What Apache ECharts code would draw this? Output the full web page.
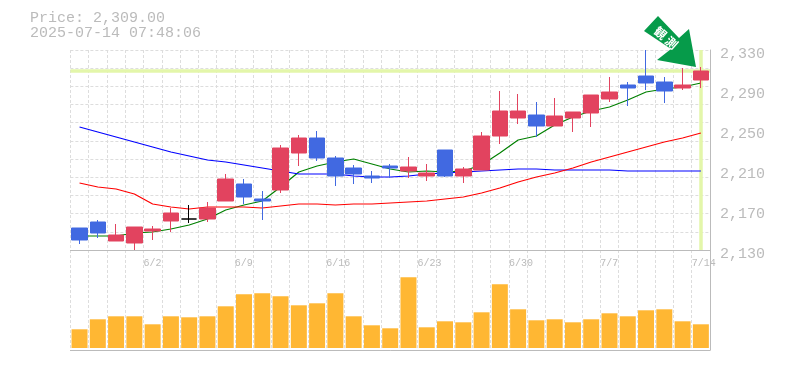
<!DOCTYPE html>
<html><head><meta charset="utf-8">
<style>html,body{margin:0;padding:0;background:#fff}#c{width:785px;height:370px}</style>
<script src="https://cdn.jsdelivr.net/npm/echarts@6/dist/echarts.min.js"></script>
</head><body><div id="c"></div>
<script>
const dates = ['5/27','5/28','5/29','5/30','6/2','6/3','6/4','6/5','6/6','6/9','6/10','6/11','6/12','6/13','6/16','6/17','6/18','6/19','6/20','6/23','6/24','6/25','6/26','6/27','6/30','7/1','7/2','7/3','7/4','7/7','7/8','7/9','7/10','7/11','7/14'];
const tickDates = ['6/2','6/9','6/16','6/23','6/30','7/7','7/14'];
const priceTicks = [2130,2170,2210,2250,2290,2330];
const lastPrice = 2309;
const titleLines = ['Price: 2,309.00','2025-07-14 07:48:06'];
const signalText = '観 測';
// open, close, low, high
const opens  = [2152,2158,2139,2137,2149,2159,2161,2161,2179,2196,2181,2190,2227,2242,2222,2212,2204,2214,2209,2204,2230,2204,2210,2244,2262,2265,2254,2262,2267,2281,2295,2304,2298,2292,2300];
const closes = [2140,2147,2145,2153,2151,2167,2161,2172,2201,2183,2179,2232,2242,2222,2204,2206,2202,2212,2213,2207,2204,2211,2244,2269,2269,2254,2264,2268,2285,2288,2292,2297,2289,2295,2309];
const lows   = [2136,2142,2139,2130,2140,2148,2157,2158,2179,2176,2160,2187,2214,2219,2194,2196,2197,2202,2202,2199,2203,2197,2210,2236,2256,2243,2254,2248,2253,2278,2274,2290,2277,2290,2292];
const highs  = [2152,2160,2156,2153,2154,2172,2175,2178,2206,2201,2189,2235,2245,2249,2224,2215,2209,2216,2223,2216,2230,2213,2248,2289,2286,2278,2282,2268,2285,2303,2298,2330,2303,2312,2313];
const maShort = [2144,2144,2144,2147,2148,2151,2155,2161,2170,2175,2179,2193,2208,2214,2218,2221,2216,2211,2208,2209,2208,2209,2215,2227,2240,2244,2255,2263,2269,2273,2280,2288,2291,2293,2297];
const maMid   = [2197,2193,2191,2186,2176,2173,2171,2173,2173,2173,2172,2174,2176,2176,2175,2176,2176,2177,2178,2179,2181,2183,2187,2192,2198,2203,2207,2212,2218,2223,2228,2233,2238,2242,2247];
const maLong  = [2253,2248,2243,2238,2233,2228,2224,2220,2218,2215,2212,2209,2206,2206,2206,2204,2203,2203,2204,2206,2207,2208,2209,2210,2211,2211,2210,2210,2210,2210,2209,2209,2209,2209,2209];
const volumes = [18.7,28.7,31.7,31.7,23.7,31.7,30.7,31.7,41.7,53.7,54.7,51.7,42.7,44.7,54.7,31.7,22.7,19.7,70.7,20.7,26.7,25.7,35.7,63.7,38.7,27.7,28.7,25.7,28.7,34.7,31.7,37.7,38.7,26.7,23.7];

const gray='#bbbbbb', gridC='#dddddd', lime='#e3f6aa', mono='"Liberation Mono", monospace';
const split={show:true,interval:0,lineStyle:{color:gridC,width:1,type:[3,2]}};
const ch=echarts.init(document.getElementById('c'),null,{renderer:'canvas'});
const lineS=(name,data,color)=>({name,type:'line',data,xAxisIndex:0,yAxisIndex:0,symbol:'none',smooth:false,z:1,silent:true,lineStyle:{color,width:1.2}});
ch.setOption({
  animation:false,
  backgroundColor:'#fff',
  title:{text:titleLines.join('\n'),left:25,top:6,textStyle:{fontFamily:mono,fontSize:15,fontWeight:'normal',color:gray,lineHeight:15}},
  grid:[{left:70.4,top:50,width:639.6,height:200},{left:70.4,top:250,width:639.6,height:100}],
  xAxis:[
    {type:'category',gridIndex:0,position:'bottom',data:dates,boundaryGap:true,axisLine:{onZero:false,lineStyle:{color:gray}},axisTick:{show:false},axisLabel:{show:false},splitLine:split},
    {type:'category',gridIndex:0,position:'bottom',data:dates.concat(['']),boundaryGap:false,axisLine:{show:false},axisTick:{show:false},splitLine:{show:false},
      axisLabel:{show:true,interval:(i,v)=>tickDates.includes(v),align:'left',margin:8,fontFamily:mono,fontSize:10,color:gray,hideOverlap:false}},
    {type:'category',gridIndex:1,position:'bottom',data:dates,boundaryGap:true,axisLine:{onZero:false,lineStyle:{color:gray}},axisTick:{show:false},axisLabel:{show:false},splitLine:split}
  ],
  yAxis:[
    {type:'value',gridIndex:0,position:'right',min:2130,max:2330,scale:true,axisLine:{show:true,onZero:false,lineStyle:{color:gray}},axisTick:{show:false},splitLine:{show:false},
      axisLabel:{show:true,customValues:priceTicks,margin:10,fontFamily:mono,fontSize:15,color:gray,verticalAlign:'top',lineHeight:8,formatter:v=>v.toLocaleString('en-US')}},
    {type:'value',gridIndex:0,min:0,max:11,interval:1,axisLine:{show:false},axisTick:{show:false},axisLabel:{show:false},splitLine:{show:true,lineStyle:{color:gridC,width:1,type:[3,2]}}},
    {type:'value',gridIndex:1,position:'right',min:-2,max:98,axisLine:{show:true,onZero:false,lineStyle:{color:gray}},axisTick:{show:false},axisLabel:{show:false},splitLine:{show:false}}
  ],
  series:[
    {name:'highlight',type:'line',data:[],xAxisIndex:0,yAxisIndex:0,z:1,silent:true,
      markLine:{silent:true,symbol:'none',animation:false,label:{show:false},lineStyle:{color:lime,width:3.5,type:'solid'},z:1,
        data:[{yAxis:lastPrice},{xAxis:dates[dates.length-1]}]}},
    lineS('short',maShort,'#008000'),
    lineS('long',maLong,'#0000ff'),
    lineS('mid',maMid,'#ff0000'),
    {name:'price',type:'candlestick',xAxisIndex:0,yAxisIndex:0,barWidth:16,z:2,silent:true,
      data:dates.map((d,i)=>[opens[i],closes[i],lows[i],highs[i]]),
      itemStyle:{color:'#e2435f',color0:'#4169e1',borderColor:'#e2435f',borderColor0:'#4169e1',borderColorDoji:'#000000',borderWidth:1}},
    {name:'volume',type:'bar',xAxisIndex:2,yAxisIndex:2,barWidth:16,silent:true,data:volumes,itemStyle:{color:'#ffb733'}}
  ],
  graphic:[
    {type:'polygon',z:10,silent:true,shape:{points:[[658,16],[679,38],[689,29],[696,67],[657,60],[671,49],[644,31]]},style:{fill:'#069b4a'}},
    {type:'text',z:11,silent:true,x:666,y:38,rotation:-0.72,style:{text:signalText,fill:'#fff',align:'center',verticalAlign:'middle',fontSize:12,fontWeight:'bold',fontFamily:'"Noto Sans CJK JP"'}}
  ]
});
</script></body></html>
